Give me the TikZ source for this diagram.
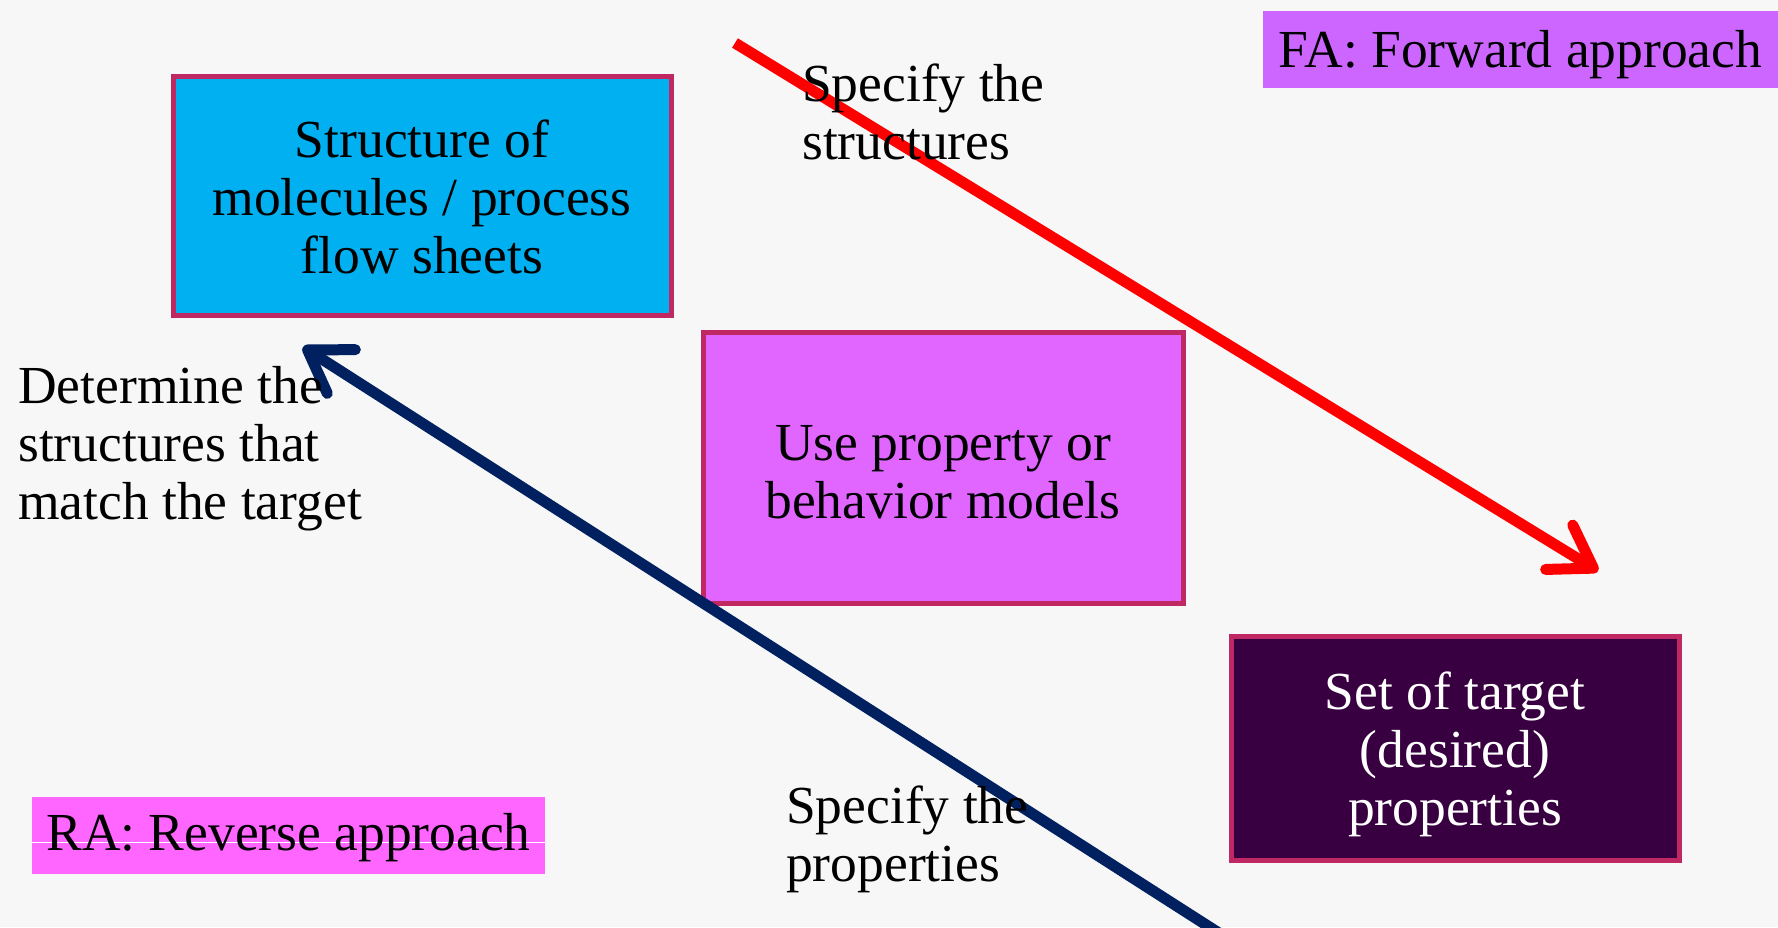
\documentclass[tikz,border=0pt]{standalone}
\usepackage{fontspec}
\setmainfont{Liberation Serif}
\usetikzlibrary{arrows.meta}
\definecolor{bgc}{RGB}{247,247,247}
\definecolor{edgec}{RGB}{192,40,100}
\definecolor{bluec}{RGB}{0,176,240}
\definecolor{magc}{RGB}{224,102,255}
\definecolor{darkc}{RGB}{56,0,64}
\definecolor{fac}{RGB}{204,102,255}
\definecolor{rac}{RGB}{255,102,255}
\definecolor{navyc}{RGB}{0,32,96}
\tikzset{
  txt/.style={font=\fontsize{53.5pt}{58pt}\selectfont, inner sep=0pt},
  mainbox/.style={draw=edgec, line width=5pt, inner sep=0pt},
  boxtext/.style={txt, align=center},
  tagbox/.style={inner sep=0pt},
  freetext/.style={txt, anchor=west, align=left},
  bigarrow/.style={line width=11pt, -{Straight Barb[length=40pt,width=52pt,round]}}
}
\begin{document}
\begin{tikzpicture}[x=1pt,y=-1pt]
\fill[bgc] (0,0) rectangle (1778,927);
\useasboundingbox (0,0) rectangle (1778,927);

% boxes
\node[mainbox, fill=bluec, minimum width=498pt, minimum height=239pt] (struct) at (422,195.5) {};
\node[boxtext] (structtext) at ([yshift=-1pt]struct.center) {Structure of\\molecules / process\\flow sheets};
\node[mainbox, fill=magc, minimum width=480pt, minimum height=271pt] (models) at (943,467.5) {};
\node[boxtext] (modelstext) at ([yshift=-5pt]models.center) {Use property or\\behavior models};
\node[mainbox, fill=darkc, minimum width=448pt, minimum height=224pt] (target) at (1455,748) {};
\node[boxtext, text=white] (targettext) at ([yshift=-6pt]target.center) {Set of target\\(desired)\\properties};

% tags
\node[tagbox, fill=fac, minimum width=515pt, minimum height=77pt] (fa) at (1520.5,49.5) {};
\node[txt] (fatext) at ([yshift=-5pt]fa.center) {FA: Forward approach};
\node[tagbox, fill=rac, minimum width=513pt, minimum height=77pt] (ra) at (288.5,835) {};
\coordinate (raL) at (32,842);
\coordinate (raR) at (545,842);
\draw[white, line width=1pt] (raL) -- (raR);
\node[txt] (ratext) at ([yshift=-3pt]ra.center) {RA: Reverse approach};

% arrows
\coordinate (fstart) at (735,43);
\coordinate (fend) at (1598,571);
\coordinate (rstart) at (1222,935);
\coordinate (rend) at (303,347);
\draw[bigarrow, red] (fstart) -- (fend);
\draw[bigarrow, navyc] (rstart) -- (rend);

% free labels
\node[freetext] (specstruct) at (802,112) {Specify the\\structures};
\node[freetext] (determine) at (18,449) {Determine the\\structures that\\match the target};
\node[freetext] (specprop) at (786,839) {Specify the\\properties};
\end{tikzpicture}
\end{document}
